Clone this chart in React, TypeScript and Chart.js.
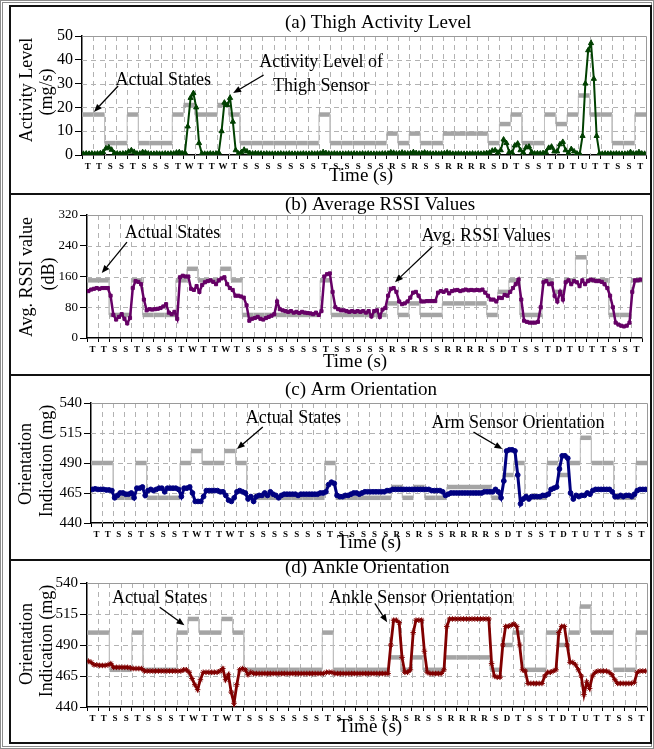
import React, { useEffect, useRef } from 'react';
import { Chart, registerables } from 'chart.js';

Chart.register(...registerables);

const FONT = '"Liberation Serif", "Times New Roman", serif';

// x-axis category labels (actual state at each time slot)
const stateLabels = [
  'T', 'T', 'S', 'S', 'T', 'S', 'S', 'S', 'T', 'W',
  'T', 'T', 'W', 'T', 'S', 'S', 'S', 'S', 'S', 'S',
  'S', 'T', 'S', 'S', 'S', 'S', 'S', 'R', 'S', 'R',
  'S', 'S', 'R', 'R', 'R', 'R', 'S', 'D', 'T', 'S',
  'S', 'T', 'D', 'T', 'U', 'T', 'T', 'S', 'S', 'T',
];

// level of the "Actual States" trace for each state, per panel
const thighStateLevels = { T: 17, S: 5, W: 21, R: 9, D: 13, U: 25 };
const rssiStateLevels = { T: 150, S: 60, W: 180, R: 90, D: 120, U: 210 };
const armStateLevels = { T: 490, S: 461, W: 500, R: 470, D: 480, U: 511 };
const ankleStateLevels = { T: 500, S: 470, W: 511, R: 480, D: 490, U: 521 };

const SAMPLES_PER_SLOT = 4;

// (a) thigh activity level (mg/s), 4 samples per time slot
const thighActivity = [
  0.5, 0.6, 0.5, 0.6, 0.5, 0.6, 0.7, 1.2, 2.8, 3.2, 2.2, 0.8, 0.6, 0.5, 0.6, 0.7, 1.4, 2.0, 1.3, 0.6,
  0.6, 1.2, 1.0, 0.6, 0.5, 0.5, 0.6, 0.5, 0.5, 0.6, 0.5, 0.6, 0.6, 1.0, 1.2, 0.7, 1.0, 12, 24, 26,
  20, 5, 0.6, 0.5, 0.5, 0.6, 0.5, 0.6, 1.0, 10, 22, 21, 24, 14, 2, 0.6, 1.2, 2.2, 1.5, 0.8,
  0.6, 0.7, 0.6, 0.6, 0.5, 0.6, 0.5, 0.5, 0.5, 0.5, 0.6, 0.5, 0.5, 0.6, 0.5, 0.5, 0.5, 0.5, 0.6, 0.5,
  0.5, 0.6, 0.5, 0.6, 0.6, 1.2, 0.8, 0.6, 0.5, 0.6, 0.5, 0.5, 0.5, 0.5, 0.6, 0.5, 0.6, 0.5, 0.5, 0.6,
  0.5, 0.6, 0.5, 0.5, 0.5, 0.5, 0.6, 0.6, 0.6, 1.1, 0.9, 0.6, 0.7, 1.0, 0.7, 0.6, 0.7, 1.2, 0.8, 0.6,
  0.7, 1.0, 0.7, 0.6, 0.5, 0.6, 0.5, 0.6, 0.7, 1.0, 0.7, 0.5, 0.5, 0.6, 0.5, 0.5, 0.5, 0.5, 0.6, 0.5,
  0.6, 0.5, 0.6, 0.8, 1.0, 1.8, 2.0, 1.0, 2.0, 6.5, 5.0, 1.2, 1.0, 4.0, 4.8, 2.0, 1.0, 3.2, 3.5, 1.2,
  0.6, 0.7, 0.6, 0.8, 1.2, 3.0, 3.5, 1.5, 1.5, 4.5, 5.5, 2.0, 0.8, 2.5, 1.5, 0.6, 0.5, 8, 30, 44,
  47, 32, 8, 0.6, 0.5, 0.6, 0.5, 0.6, 0.5, 0.6, 0.5, 0.5, 0.5, 0.6, 1.2, 0.6, 0.6, 1.2, 0.6, 0.5,
];

// (b) average RSSI values (dB)
const rssiValues = [
  122, 126, 128, 130, 128, 130, 130, 130, 110, 60, 48, 55, 62, 50, 38, 52, 130, 148, 146, 140,
  100, 72, 75, 74, 75, 76, 78, 82, 88, 66, 62, 68, 50, 158, 162, 160, 160, 128, 125, 135,
  120, 138, 145, 148, 150, 146, 140, 150, 155, 158, 140, 130, 125, 110, 110, 108, 105, 85, 45, 50,
  52, 55, 50, 48, 52, 55, 58, 62, 95, 75, 72, 70, 68, 70, 66, 68, 65, 68, 66, 65,
  64, 62, 66, 60, 70, 160, 166, 168, 120, 80, 75, 72, 72, 70, 68, 70, 68, 70, 68, 70,
  66, 70, 56, 70, 72, 55, 74, 78, 110, 128, 130, 120, 95, 88, 90, 95, 105, 118, 120, 110,
  95, 95, 96, 96, 96, 96, 118, 122, 120, 124, 116, 122, 124, 125, 122, 124, 126, 124, 125, 124,
  125, 124, 126, 118, 110, 100, 100, 95, 105, 104, 112, 110, 120, 130, 140, 152, 100, 45, 42, 40,
  40, 40, 42, 80, 145, 148, 140, 142, 110, 95, 120, 100, 145, 150, 140, 148, 145, 135, 150, 140,
  148, 152, 150, 148, 148, 146, 140, 130, 110, 80, 40, 35, 32, 30, 32, 40, 120, 150, 150, 152,
];

// (c) arm orientation indication (mg)
const armValues = [
  468, 468.5, 468, 468, 468, 467.5, 467.5, 467, 461, 463, 465, 465, 464, 464, 465, 461, 469, 469, 470, 463,
  467, 468, 467, 468, 469, 469, 466, 469, 469, 469, 469, 468, 462, 469, 469, 470, 465, 458, 458, 458,
  462, 467, 467, 467, 467, 467, 466, 466, 463, 459, 458, 461, 466, 467, 466, 465, 460, 462, 458, 462,
  463, 463, 465, 463, 466, 464, 463, 461, 463, 464, 464, 464, 464, 464, 463, 464, 464, 464, 464, 464,
  464, 464, 465, 465, 466, 472, 474, 473, 463, 462, 462, 463, 463, 464, 465, 465, 464, 465, 466, 466,
  466, 466, 466, 466, 466, 466, 467, 467, 468, 468, 468, 468, 468, 468, 468, 468, 468, 468, 468, 468,
  468, 468, 467, 467, 467, 467, 466, 463, 464, 465, 465, 465, 465, 465, 465, 465, 465, 465, 465, 465,
  465, 466, 466, 466, 466, 468, 466, 461, 475, 500, 501, 501, 500, 480, 456, 460, 462, 460, 462, 462,
  462, 462, 463, 463, 464, 468, 469, 470, 485, 496, 496, 494, 465, 460, 463, 462, 463, 463, 465, 464,
  467, 468, 468, 468, 468, 468, 468, 466, 462, 462, 463, 462, 463, 463, 462, 464, 467, 468, 468, 468,
];

// (d) ankle orientation indication (mg)
const ankleValues = [
  477, 476, 474, 474, 473.5, 473.5, 473.5, 474, 475, 472, 472, 472, 472, 472, 472, 471.5, 471, 471, 471, 471,
  469, 469, 469, 469, 469, 469, 469, 469, 469, 469, 469, 469, 469, 469, 470, 470, 468, 463, 458, 454,
  462, 468, 468, 468, 468, 468, 468, 469, 471, 462, 466, 452, 443, 458, 470, 471, 470, 466, 468, 467,
  467, 467, 467, 467, 467, 467, 467, 467, 467, 467, 467, 467, 467, 467, 467, 467, 467, 467, 467, 467,
  467, 467, 467, 467, 467, 468, 468, 468, 467, 467, 467, 467, 467, 467, 467, 467, 467, 467, 467, 467,
  467, 467, 467, 467, 467, 467, 467, 467, 490, 510, 510, 508, 480, 468, 468, 470, 500, 510, 510, 510,
  485, 468, 467, 467, 467, 467, 467, 470, 505, 511, 511, 511, 511, 511, 511, 511, 511, 511, 511, 511,
  511, 511, 511, 511, 475, 465, 464, 464, 490, 505, 505, 506, 507, 505, 490, 470, 469, 459, 459, 459,
  459, 459, 459, 465, 468, 468, 469, 470, 500, 505, 505, 490, 476, 476, 474, 470, 465, 450, 460, 455,
  465, 468, 469, 469, 469, 469, 468, 466, 462, 459, 459, 459, 459, 459, 459, 460, 468, 469, 469, 469,
];

const CANVAS_LEFT = 9;
const CANVAS_W = 643;

const panels = [
  {
    key: 'a', top: 5, height: 190,
    plot: { left: 82, right: 646, top: 36, bottom: 155 },
    title: '(a) Thigh Activity Level', titleY: 23,
    yTitle: [['Activity Level', 27, 90], ['(mg/s)', 47, 92]],
    xTitle: [361, 176],
    yMin: 0, yMax: 50, yStep: 10, tickSize: 16,
    levels: thighStateLevels, values: thighActivity,
    color: '#004000', pointStyle: 'triangle', radius: 3, lineWidth: 2,
    notes: [
      { text: 'Actual States', at: [7.2, 31.5] },
      { text: 'Activity Level of', at: [21.2, 39] },
      { text: 'Thigh Sensor', at: [21.2, 29] },
    ],
    arrows: [
      { from: [3.2, 29], to: [1.06, 18.1] },
      { from: [16.1, 33.6], to: [13.4, 26] },
    ],
  },
  {
    key: 'b', top: 193, height: 183,
    plot: { left: 87, right: 642, top: 215, bottom: 338 },
    title: '(b) Average RSSI Values', titleY: 205,
    yTitle: [['Avg. RSSI value', 27, 277], ['(dB)', 49, 274]],
    xTitle: [355, 362],
    yMin: 0, yMax: 320, yStep: 80, tickSize: 13,
    levels: rssiStateLevels, values: rssiValues,
    color: '#660066', pointStyle: 'rect', radius: 2.2, lineWidth: 2.5,
    notes: [
      { text: 'Actual States', at: [7.7, 272.6] },
      { text: 'Avg. RSSI Values', at: [35.95, 265] },
    ],
    arrows: [
      { from: [3.6, 249.6], to: [1.33, 168.8] },
      { from: [31.08, 236.6], to: [27.75, 145.3] },
    ],
  },
  {
    key: 'c', top: 374, height: 187,
    plot: { left: 91, right: 648, top: 403, bottom: 523 },
    title: '(c) Arm Orientation', titleY: 390,
    yTitle: [['Orientation', 26, 464], ['Indication (mg)', 47, 461]],
    xTitle: [369, 543],
    yMin: 440, yMax: 540, yStep: 25, tickSize: 15,
    levels: armStateLevels, values: armValues,
    color: '#000080', pointStyle: 'circle', radius: 2.4, lineWidth: 3,
    notes: [
      { text: 'Actual States', at: [18.2, 527.5] },
      { text: 'Arm Sensor Orientation', at: [38.4, 523.2] },
    ],
    arrows: [
      { from: [15.45, 519.9], to: [13.12, 501.6] },
      { from: [34.4, 515.7], to: [37.0, 501.6] },
    ],
  },
  {
    key: 'd', top: 559, height: 185,
    plot: { left: 87, right: 648, top: 583, bottom: 707 },
    title: '(d) Ankle Orientation', titleY: 568,
    yTitle: [['Orientation', 27, 644], ['Indication (mg)', 47, 641]],
    xTitle: [370, 727],
    yMin: 440, yMax: 540, yStep: 25, tickSize: 15,
    levels: ankleStateLevels, values: ankleValues,
    color: '#800000', pointStyle: 'star', radius: 2.8, lineWidth: 2.8,
    notes: [
      { text: 'Actual States', at: [6.5, 527.7] },
      { text: 'Ankle Sensor Orientation', at: [29.8, 527.7] },
    ],
    arrows: [
      { from: [6.49, 520.4], to: [8.7, 505.9] },
      { from: [25.7, 523.6], to: [26.8, 508.3] },
    ],
  },
];

function buildStateLine(levels: any) {
  const pts: any[] = [];
  stateLabels.forEach((s, i) => {
    const v = levels[s];
    pts.push({ x: i, y: v });
    pts.push({ x: i + 1, y: v });
  });
  return pts;
}

function buildSeries(vals: number[]) {
  return vals.map((v, i) => ({ x: i / SAMPLES_PER_SLOT + 0.5 / SAMPLES_PER_SLOT, y: v }));
}

function drawArrow(ctx: CanvasRenderingContext2D, x1: number, y1: number, x2: number, y2: number) {
  const ang = Math.atan2(y2 - y1, x2 - x1);
  const head = 8;
  const hw = 3.2;
  const bx = x2 - head * Math.cos(ang);
  const by = y2 - head * Math.sin(ang);
  ctx.beginPath();
  ctx.moveTo(x1, y1);
  ctx.lineTo(bx, by);
  ctx.stroke();
  ctx.beginPath();
  ctx.moveTo(x2, y2);
  ctx.lineTo(bx + hw * Math.sin(ang), by - hw * Math.cos(ang));
  ctx.lineTo(bx - hw * Math.sin(ang), by + hw * Math.cos(ang));
  ctx.closePath();
  ctx.fill();
}

function makeDecor(cfg: any) {
  const ox = CANVAS_LEFT;
  const oy = cfg.top;
  return {
    id: 'decor_' + cfg.key,
    beforeDatasetsDraw(chart: any) {
      const { ctx, chartArea: a } = chart;
      const xs = chart.scales.x2;
      const ys = chart.scales.y;
      ctx.save();
      ctx.strokeStyle = '#b2b2b2';
      ctx.lineWidth = 1;
      ctx.setLineDash([5, 4]);
      for (let k = 1; k < stateLabels.length; k++) {
        const x = Math.round(xs.getPixelForValue(k)) + 0.5;
        ctx.beginPath();
        ctx.moveTo(x, a.top);
        ctx.lineTo(x, a.bottom);
        ctx.stroke();
      }
      for (let v = cfg.yMin + cfg.yStep; v < cfg.yMax - 1e-9; v += cfg.yStep) {
        const y = Math.round(ys.getPixelForValue(v)) + 0.5;
        ctx.beginPath();
        ctx.moveTo(a.left, y);
        ctx.lineTo(a.right, y);
        ctx.stroke();
      }
      ctx.setLineDash([]);
      ctx.strokeStyle = '#9a9a9a';
      ctx.beginPath();
      ctx.moveTo(a.left, Math.round(a.top) + 0.5);
      ctx.lineTo(Math.round(a.right) + 0.5, Math.round(a.top) + 0.5);
      ctx.lineTo(Math.round(a.right) + 0.5, a.bottom);
      ctx.stroke();
      ctx.restore();
    },
    afterDraw(chart: any) {
      const { ctx } = chart;
      const xs = chart.scales.x2;
      const ys = chart.scales.y;
      ctx.save();
      ctx.fillStyle = '#000';
      ctx.strokeStyle = '#000';
      ctx.textBaseline = 'middle';
      // title
      ctx.font = '19px ' + FONT;
      ctx.textAlign = 'left';
      ctx.fillText(cfg.title, 285 - ox, cfg.titleY - oy);
      // x title
      ctx.textAlign = 'center';
      ctx.fillText('Time (s)', cfg.xTitle[0] - ox, cfg.xTitle[1] - oy);
      // y title lines
      ctx.font = '18px ' + FONT;
      cfg.yTitle.forEach((t: any) => {
        ctx.save();
        ctx.translate(t[1] - ox, t[2] - oy);
        ctx.rotate(-Math.PI / 2);
        ctx.fillText(t[0], 0, 0);
        ctx.restore();
      });
      // annotations
      ctx.font = '18px ' + FONT;
      cfg.notes.forEach((n: any) => {
        ctx.fillText(n.text, xs.getPixelForValue(n.at[0]), ys.getPixelForValue(n.at[1]));
      });
      ctx.lineWidth = 1.3;
      cfg.arrows.forEach((ar: any) => {
        drawArrow(
          ctx,
          xs.getPixelForValue(ar.from[0]), ys.getPixelForValue(ar.from[1]),
          xs.getPixelForValue(ar.to[0]), ys.getPixelForValue(ar.to[1]),
        );
      });
      ctx.restore();
    },
  };
}

function Panel({ cfg }: { cfg: any }) {
  const ref = useRef<HTMLCanvasElement | null>(null);
  useEffect(() => {
    if (!ref.current) return;
    const canvasBottom = cfg.top + cfg.height;
    const yAxisW = cfg.plot.left - CANVAS_LEFT;
    const xAxisH = canvasBottom - cfg.plot.bottom;
    const chart = new Chart(ref.current, {
      type: 'line',
      data: {
        datasets: [
          {
            label: 'sensor',
            data: buildSeries(cfg.values),
            xAxisID: 'x2',
            yAxisID: 'y',
            borderColor: cfg.color,
            backgroundColor: cfg.color,
            borderWidth: cfg.lineWidth,
            pointStyle: cfg.pointStyle,
            pointRadius: cfg.radius,
            pointBorderWidth: 1,
            pointBackgroundColor: cfg.color,
            pointBorderColor: cfg.color,
            tension: 0,
            fill: false,
          },
          {
            label: 'Actual States',
            data: buildStateLine(cfg.levels),
            xAxisID: 'x2',
            yAxisID: 'y',
            borderColor: '#a4a4a4',
            borderWidth: 4.5,
            borderCapStyle: 'butt',
            pointRadius: 0,
            tension: 0,
            fill: false,
            segment: {
              borderWidth: (c: any) => (c.p0.parsed.x === c.p1.parsed.x ? 1 : 4.5),
              borderColor: (c: any) => (c.p0.parsed.x === c.p1.parsed.x ? '#c0c0c0' : '#a4a4a4'),
            },
          },
        ],
      } as any,
      options: {
        responsive: false,
        maintainAspectRatio: false,
        animation: false,
        events: [],
        layout: {
          padding: {
            left: 0,
            top: cfg.plot.top - cfg.top,
            right: CANVAS_LEFT + CANVAS_W - cfg.plot.right,
            bottom: 0,
          },
        },
        plugins: {
          legend: { display: false },
          tooltip: { enabled: false },
          title: { display: false },
        },
        scales: {
          x: {
            type: 'category',
            labels: stateLabels,
            offset: true,
            grid: {
              offset: true,
              drawOnChartArea: false,
              drawTicks: true,
              tickLength: 4,
              color: '#000',
              lineWidth: 1,
            },
            border: { display: true, color: '#000', width: 1.5 },
            ticks: {
              autoSkip: false,
              maxRotation: 0,
              minRotation: 0,
              padding: 2,
              color: '#000',
              font: { family: FONT, size: 9, weight: 'bold' },
            },
            afterFit: (s: any) => {
              s.height = xAxisH;
            },
          },
          x2: {
            type: 'linear',
            display: false,
            min: 0,
            max: stateLabels.length,
          },
          y: {
            type: 'linear',
            min: cfg.yMin,
            max: cfg.yMax,
            ticks: {
              stepSize: cfg.yStep,
              color: '#000',
              padding: 2,
              font: { family: FONT, size: cfg.tickSize },
            },
            grid: {
              drawOnChartArea: false,
              drawTicks: true,
              tickLength: 7,
              color: '#000',
            },
            border: { display: true, color: '#000', width: 1.5 },
            afterFit: (s: any) => {
              s.width = yAxisW;
            },
          },
        },
      } as any,
      plugins: [makeDecor(cfg)],
    });
    return () => chart.destroy();
  }, [cfg]);
  return (
    <canvas
      ref={ref}
      width={CANVAS_W}
      height={cfg.height}
      style={{ position: 'absolute', left: CANVAS_LEFT, top: cfg.top, width: CANVAS_W, height: cfg.height }}
    />
  );
}

export default function App() {
  return (
    <div style={{ position: 'absolute', left: 0, top: 0, width: 654, height: 749, background: '#fff', fontFamily: FONT }}>
      <div
        style={{
          position: 'absolute', left: 0, top: 0, width: 654, height: 749,
          boxSizing: 'border-box', border: '3px double #8c8c8c',
        }}
      />
      {panels.map((p) => (
        <div
          key={'box' + p.key}
          style={{
            position: 'absolute', left: CANVAS_LEFT, top: p.top, width: CANVAS_W, height: p.height,
            boxSizing: 'border-box', border: '2px solid #111',
          }}
        />
      ))}
      {panels.map((p) => (
        <Panel key={p.key} cfg={p} />
      ))}
    </div>
  );
}
